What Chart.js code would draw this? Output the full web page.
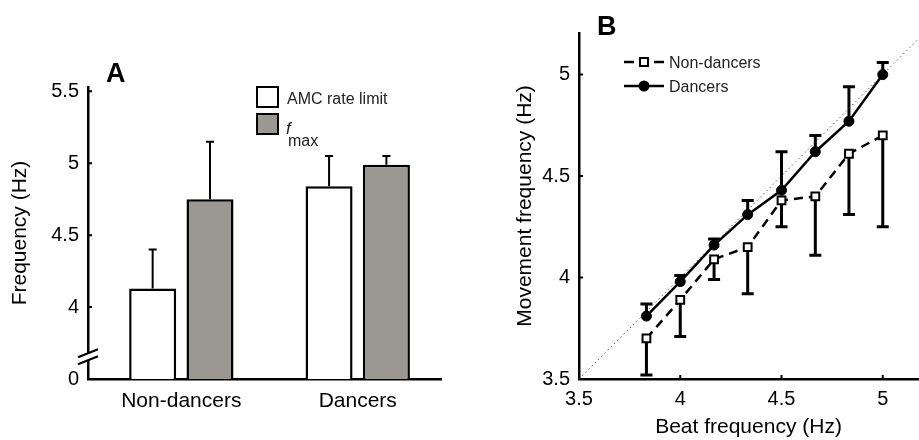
<!DOCTYPE html>
<html>
<head>
<meta charset="utf-8">
<script src="https://cdn.jsdelivr.net/npm/chart.js@4.4.0/dist/chart.umd.min.js"></script>
<style>
  html, body { margin: 0; padding: 0; background: #fff; }
  #wrapA { position: absolute; left: 0; top: 0; width: 460px; height: 440px; }
  #wrapB { position: absolute; left: 460px; top: 0; width: 459px; height: 440px; }
</style>
</head>
<body>
<div id="wrapA"><canvas id="chartA"></canvas></div>
<div id="wrapB"><canvas id="chartB"></canvas></div>
<script>
// ---- panel A data ----
const groups = ['Non-dancers', 'Dancers'];
const amcMean = [4.13, 4.84];
const amcErr = [0.27, 0.21];
const fmaxMean = [4.75, 4.99];
const fmaxErr = [0.40, 0.06];
// axis is broken: the 3.5 position carries the "0" label
const yTicksA = [3.5, 4, 4.5, 5, 5.5];
const yLabelsA = ['0', '4', '4.5', '5', '5.5'];
const breakAt = 3.655;

// ---- panel B data ----
const beatFreq = [3.833, 4.0, 4.167, 4.333, 4.5, 4.667, 4.833, 5.0];
const nonMean = [3.70, 3.89, 4.09, 4.15, 4.38, 4.40, 4.61, 4.70];
const nonErr = [0.18, 0.18, 0.10, 0.23, 0.13, 0.29, 0.30, 0.45];   // drawn downward
const danMean = [3.81, 3.98, 4.16, 4.31, 4.43, 4.62, 4.77, 5.00];
const danErr = [0.06, 0.03, 0.03, 0.07, 0.19, 0.08, 0.17, 0.06];   // drawn upward
const identity = [3.5, 5.25];
const xTicksB = [3.5, 4, 4.5, 5];
const yTicksB = [3.5, 4, 4.5, 5];
const tickLabelsB = ['3.5', '4', '4.5', '5'];

const FONT = "'Liberation Sans', Arial, Helvetica, sans-serif";
Chart.defaults.font.family = FONT;
Chart.defaults.color = '#000';

const axisBorder = { display: true, color: '#000', width: 2.5 };

// small tick marks pointing into the plot
function innerTicks(ctx, scale, values, len) {
  ctx.save();
  ctx.strokeStyle = '#000';
  ctx.lineWidth = 2;
  ctx.beginPath();
  values.forEach(v => {
    const p = scale.getPixelForValue(v);
    if (scale.isHorizontal()) {
      ctx.moveTo(p, scale.top); ctx.lineTo(p, scale.top - len);
    } else {
      ctx.moveTo(scale.right, p); ctx.lineTo(scale.right + len, p);
    }
  });
  ctx.stroke();
  ctx.restore();
}

const errorBarsA = {
  id: 'errorBarsA',
  afterDatasetsDraw(chart) {
    const ctx = chart.ctx, y = chart.scales.y;
    const errs = [amcErr, fmaxErr];
    ctx.save();
    ctx.strokeStyle = '#000';
    ctx.lineWidth = 2;
    errs.forEach((err, d) => {
      chart.getDatasetMeta(d).data.forEach((bar, i) => {
        const v = chart.data.datasets[d].data[i].y;
        const yt = y.getPixelForValue(v + err[i]);
        ctx.beginPath();
        ctx.moveTo(bar.x, bar.y);
        ctx.lineTo(bar.x, yt);
        ctx.moveTo(bar.x - 4, yt);
        ctx.lineTo(bar.x + 4, yt);
        ctx.stroke();
      });
    });
    ctx.restore();
  }
};

const decorA = {
  id: 'decorA',
  afterDraw(chart) {
    const ctx = chart.ctx, a = chart.chartArea, y = chart.scales.y;
    innerTicks(ctx, y, yTicksA.slice(1), 4);

    // axis break
    const x0 = a.left, yb = y.getPixelForValue(breakAt);
    ctx.save();
    ctx.fillStyle = '#fff';
    ctx.beginPath();
    ctx.moveTo(x0 - 4, yb - 3.5 + 1.6);
    ctx.lineTo(x0 + 4, yb - 3.5 - 1.6);
    ctx.lineTo(x0 + 4, yb + 3.5 - 1.6);
    ctx.lineTo(x0 - 4, yb + 3.5 + 1.6);
    ctx.closePath();
    ctx.fill();
    ctx.strokeStyle = '#000';
    ctx.lineWidth = 2.2;
    ctx.beginPath();
    [-3.5, 3.5].forEach(off => {
      ctx.moveTo(x0 - 10, yb + off + 4);
      ctx.lineTo(x0 + 10, yb + off - 4);
    });
    ctx.stroke();

    // panel letter
    ctx.fillStyle = '#000';
    ctx.font = 'bold 27px ' + FONT;
    ctx.textBaseline = 'alphabetic';
    ctx.fillText('A', a.left + 18, a.top - 5);

    // legend
    const bx = a.left + 169;
    ctx.lineWidth = 2;
    ctx.fillStyle = '#fff';
    ctx.fillRect(bx, a.top, 21, 20);
    ctx.strokeRect(bx, a.top, 21, 20);
    ctx.fillStyle = '#9b9792';
    ctx.fillRect(bx, a.top + 27, 21, 20);
    ctx.strokeRect(bx, a.top + 27, 21, 20);
    ctx.fillStyle = '#222';
    ctx.font = '16px ' + FONT;
    ctx.fillText('AMC rate limit', bx + 30, a.top + 17);
    ctx.font = 'italic 17px ' + FONT;
    ctx.fillText('f', bx + 29, a.top + 47);
    ctx.font = '16px ' + FONT;
    ctx.fillText('max', bx + 31, a.top + 59);
    ctx.restore();
  }
};

const groupPts = vals => vals.map((v, i) => ({ x: i, y: v }));

new Chart(document.getElementById('chartA'), {
  type: 'bar',
  data: {
    datasets: [
      {
        label: 'AMC rate limit',
        data: groupPts(amcMean),
        backgroundColor: '#ffffff',
        borderColor: '#000',
        borderWidth: 2.5,
        borderSkipped: false,
        categoryPercentage: 0.65,
        barPercentage: 0.82
      },
      {
        label: 'fmax',
        data: groupPts(fmaxMean),
        backgroundColor: '#9b9792',
        borderColor: '#000',
        borderWidth: 2.5,
        borderSkipped: false,
        categoryPercentage: 0.65,
        barPercentage: 0.82
      }
    ]
  },
  options: {
    responsive: true,
    maintainAspectRatio: false,
    animation: false,
    layout: { autoPadding: false, padding: { left: 0, right: 19, top: 87, bottom: 0 } },
    plugins: { legend: { display: false }, tooltip: { enabled: false } },
    scales: {
      x: {
        type: 'linear',
        offset: false,
        min: -0.529,
        max: 1.472,
        afterBuildTicks(s) { s.ticks = groups.map((g, i) => ({ value: i })); },
        grid: { display: false, drawTicks: false },
        border: axisBorder,
        ticks: {
          font: { size: 21 },
          color: '#000',
          padding: 10,
          callback: v => groups[v]
        },
        afterFit(s) { s.height = 61; }
      },
      y: {
        min: 3.5,
        max: 5.53,
        afterBuildTicks(s) { s.ticks = yTicksA.map(v => ({ value: v })); },
        grid: { display: false, drawTicks: false },
        border: axisBorder,
        ticks: {
          font: { size: 20 },
          color: '#000',
          padding: 9,
          callback: v => yLabelsA[yTicksA.indexOf(v)]
        },
        title: {
          display: true,
          text: 'Frequency (Hz)',
          font: { size: 21 },
          color: '#000',
          padding: { top: 7.5, bottom: 0 }
        },
        afterFit(s) { s.width = 88; }
      }
    }
  },
  plugins: [errorBarsA, decorA]
});

// ---- panel B ----
const pts = (xs, ys) => xs.map((x, i) => ({ x: x, y: ys[i] }));

const errorBarsB = {
  id: 'errorBarsB',
  beforeDatasetsDraw(chart) {
    const ctx = chart.ctx, x = chart.scales.x, y = chart.scales.y;
    ctx.save();
    ctx.strokeStyle = '#000';
    ctx.lineWidth = 3;
    const draw = (means, errs, dir) => {
      means.forEach((m, i) => {
        const px = x.getPixelForValue(beatFreq[i]);
        const p0 = y.getPixelForValue(m);
        const p1 = y.getPixelForValue(m + dir * errs[i]);
        ctx.beginPath();
        ctx.moveTo(px, p0);
        ctx.lineTo(px, p1);
        ctx.moveTo(px - 6, p1);
        ctx.lineTo(px + 6, p1);
        ctx.stroke();
      });
    };
    draw(danMean, danErr, 1);
    draw(nonMean, nonErr, -1);
    ctx.restore();
  }
};

const decorB = {
  id: 'decorB',
  afterDraw(chart) {
    const ctx = chart.ctx, a = chart.chartArea;
    innerTicks(ctx, chart.scales.x, xTicksB.slice(1), 4);
    innerTicks(ctx, chart.scales.y, yTicksB.slice(1), 4);

    ctx.save();
    ctx.fillStyle = '#000';
    ctx.font = 'bold 27px ' + FONT;
    ctx.textBaseline = 'alphabetic';
    ctx.fillText('B', a.left + 18, a.top + 2);

    // legend
    const lx = a.left + 45, ly1 = a.top + 29, ly2 = a.top + 53;
    ctx.strokeStyle = '#000';
    ctx.lineWidth = 2.5;
    ctx.setLineDash([10, 5]);
    ctx.beginPath();
    ctx.moveTo(lx, ly1);
    ctx.lineTo(lx + 40, ly1);
    ctx.stroke();
    ctx.setLineDash([]);
    ctx.lineWidth = 2;
    ctx.fillStyle = '#fff';
    ctx.fillRect(lx + 16, ly1 - 4, 8, 8);
    ctx.strokeRect(lx + 16, ly1 - 4, 8, 8);

    ctx.lineWidth = 2.5;
    ctx.beginPath();
    ctx.moveTo(lx, ly2);
    ctx.lineTo(lx + 40, ly2);
    ctx.stroke();
    ctx.fillStyle = '#000';
    ctx.beginPath();
    ctx.arc(lx + 20, ly2, 5.5, 0, Math.PI * 2);
    ctx.fill();

    ctx.fillStyle = '#222';
    ctx.font = '16px ' + FONT;
    ctx.fillText('Non-dancers', a.left + 90, a.top + 35);
    ctx.fillText('Dancers', a.left + 90, a.top + 59);
    ctx.restore();
  }
};

new Chart(document.getElementById('chartB'), {
  type: 'scatter',
  data: {
    datasets: [
      {
        label: 'Dancers',
        data: pts(beatFreq, danMean),
        showLine: true,
        borderColor: '#000',
        borderWidth: 2.5,
        pointStyle: 'circle',
        pointRadius: 5,
        pointBackgroundColor: '#000',
        pointBorderColor: '#000',
        pointBorderWidth: 1
      },
      {
        label: 'Non-dancers',
        data: pts(beatFreq, nonMean),
        showLine: true,
        borderColor: '#000',
        borderWidth: 2.5,
        borderDash: [9, 6],
        pointStyle: 'rect',
        pointRadius: 5.5,
        pointBackgroundColor: '#fff',
        pointBorderColor: '#000',
        pointBorderWidth: 2
      },
      {
        label: 'identity',
        data: pts(identity, identity),
        showLine: true,
        borderColor: '#555',
        borderWidth: 1,
        borderDash: [1.5, 3],
        pointRadius: 0
      }
    ]
  },
  options: {
    responsive: true,
    maintainAspectRatio: false,
    animation: false,
    layout: { autoPadding: false, padding: { left: 0, right: 1, top: 33, bottom: 0 } },
    plugins: { legend: { display: false }, tooltip: { enabled: false } },
    scales: {
      x: {
        type: 'linear',
        min: 3.5,
        max: 5.174,
        afterBuildTicks(s) { s.ticks = xTicksB.map(v => ({ value: v })); },
        grid: { display: false, drawTicks: false },
        border: axisBorder,
        ticks: {
          font: { size: 20 },
          color: '#000',
          padding: 8,
          callback: v => tickLabelsB[xTicksB.indexOf(v)]
        },
        title: {
          display: true,
          text: 'Beat frequency (Hz)',
          font: { size: 21 },
          color: '#000',
          padding: { top: 0, bottom: 0 }
        },
        afterFit(s) { s.height = 61; }
      },
      y: {
        min: 3.5,
        max: 5.205,
        afterBuildTicks(s) { s.ticks = yTicksB.map(v => ({ value: v })); },
        grid: { display: false, drawTicks: false },
        border: axisBorder,
        ticks: {
          font: { size: 20 },
          color: '#000',
          padding: 9,
          callback: v => tickLabelsB[yTicksB.indexOf(v)]
        },
        title: {
          display: true,
          text: 'Movement frequency (Hz)',
          font: { size: 21 },
          color: '#000',
          padding: { top: 52.5, bottom: 0 }
        },
        afterFit(s) { s.width = 119; }
      }
    }
  },
  plugins: [errorBarsB, decorB]
});
</script>
</body>
</html>
